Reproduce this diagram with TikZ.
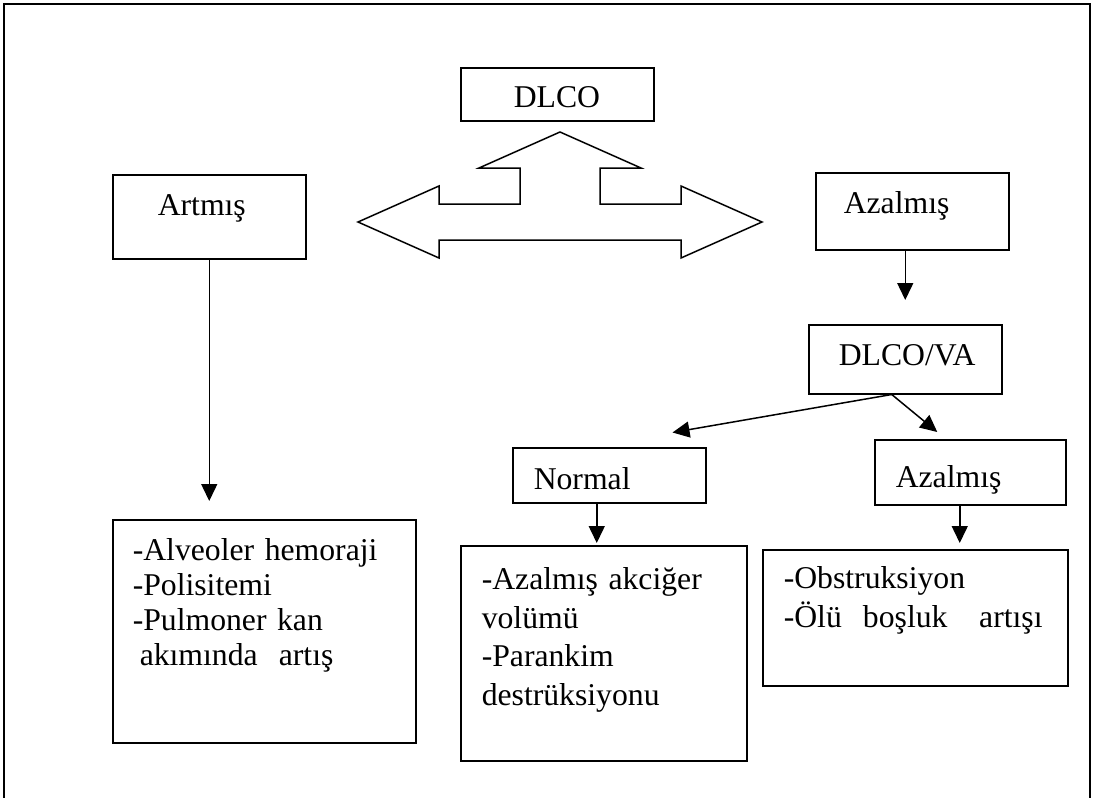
\documentclass[tikz,border=0pt]{standalone}
\usepackage{fontspec}
\setmainfont{Liberation Serif}
\usetikzlibrary{arrows.meta}

\begin{document}
\begin{tikzpicture}[x=1pt, y=-1pt,
  font=\fontsize{31.7pt}{35pt}\selectfont,
  box/.style={draw, line width=1.5pt, anchor=north west, inner sep=0pt, align=left},
  arr/.style={line width=1.5pt, -{Triangle[width=16pt,length=17pt]}}]
\useasboundingbox (0,0) rectangle (1093,798);
\draw[line width=1.5pt] (4,798) -- (4,4) -- (1090,4) -- (1090,798);

\node[box, text width=193pt, text height=40pt, text depth=13pt] (dlco) at (460,67) {\leftskip=53pt\relax DLCO\par};
\node[box, text width=193pt, text height=41pt, text depth=43pt] (artmis) at (112,174) {\leftskip=45pt\relax Artmış\par};
\node[box, text width=193pt, text height=41pt, text depth=36pt] (azalmis) at (815,172) {\leftskip=28pt\relax Azalmış\par};
\node[box, text width=193pt, text height=41pt, text depth=28pt] (dlcova) at (808,324) {\leftskip=30pt\relax DLCO/VA\par};
\node[box, text width=193pt, text height=42pt, text depth=13pt] (normal) at (512,447) {\leftskip=21pt\relax Normal\par};
\node[box, text width=191pt, text height=48pt, text depth=17pt] (azalmis2) at (874,439) {\leftskip=21pt\relax Azalmış\par};

\node[box, text width=303pt, text height=41pt, text depth=182pt] (artis) at (112,519)
  {\leftskip=20pt\relax -Alveoler hemoraji\\-Polisitemi\\-Pulmoner kan\\\hspace*{7pt}akımında\ \ artış\par};
\node[box, text width=286pt, text height=44pt, text depth=171pt, font=\fontsize{31.7pt}{38.5pt}\selectfont] (volum) at (460,545)
  {\leftskip=21pt\relax -Azalmış akciğer\\volümü\\-Parankim\\destrüksiyonu\par};
\node[box, text width=305pt, text height=39pt, text depth=97pt, font=\fontsize{31.7pt}{38.5pt}\selectfont] (obstr) at (762,549)
  {\leftskip=21pt\relax -Obstruksiyon\\-Ölü\ \ boşluk\ \ \ artışı\par};

% cift yonlu ok
\draw[line width=1.5pt] (358,222) -- (439,186) -- (439,204) -- (520,204) -- (520,168) -- (479,168)
  -- (560,132) -- (641,168) -- (600,168) -- (600,204) -- (681,204) -- (681,186) -- (762,222)
  -- (681,258) -- (681,240) -- (439,240) -- (439,258) -- cycle;

\path[draw, arr, shorten >=18pt] (artmis.south) -- (artmis.south |- artis.north);
\path[draw, arr, shorten >=24pt] (azalmis.south -| dlcova.north) -- (dlcova.north);
\path[draw, arr, shorten >=85pt] ([xshift=-13.5pt]dlcova.south) -- ([xshift=-20.5pt]normal.north);
\path[draw, arr, shorten >=11pt] ([xshift=-13.5pt]dlcova.south) -- ([xshift=-24.5pt]azalmis2.north);
\path[draw, arr, shorten >=2pt] ([xshift=-12.5pt]normal.south) -- ([xshift=-12.5pt]normal.south |- volum.north);
\path[draw, arr, shorten >=6pt] ([xshift=-10.5pt]azalmis2.south) -- ([xshift=-10.5pt]azalmis2.south |- obstr.north);
\end{tikzpicture}
\end{document}
